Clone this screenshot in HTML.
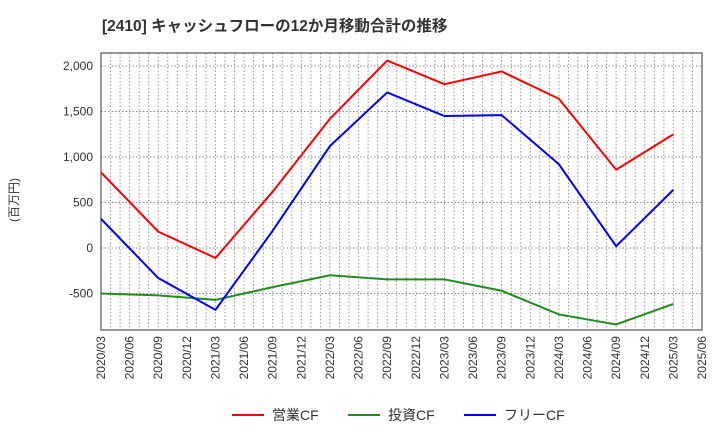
<!DOCTYPE html>
<html><head><meta charset="utf-8"><style>
body{margin:0;background:#fff;font-family:"Liberation Sans","Noto Sans CJK JP",sans-serif;}
</style></head><body>
<svg width="720" height="440" xmlns="http://www.w3.org/2000/svg" font-family="Liberation Sans, Noto Sans CJK JP, sans-serif">
<text x="102" y="31" font-size="15.5" font-weight="bold" fill="#333">[2410]  キャッシュフローの12か月移動合計の推移</text>
<text transform="translate(18,200) rotate(-90)" font-size="12" fill="#333" text-anchor="middle">(百万円)</text>
<g id="grid"></g>
<g id="axes"></g>
<g id="series"></g>
<g id="legend"></g>
</svg>
<script>
const xLabels=["2020/03","2020/06","2020/09","2020/12","2021/03","2021/06","2021/09","2021/12","2022/03","2022/06","2022/09","2022/12","2023/03","2023/06","2023/09","2023/12","2024/03","2024/06","2024/09","2024/12","2025/03","2025/06"];
const yTicks=[-500,0,500,1000,1500,2000];
const yTickLabels=["-500","0","500","1,000","1,500","2,000"];
const pointIdx=[0,2,4,6,8,10,12,14,16,18,20];
const operatingCF=[830,180,-110,620,1420,2060,1800,1940,1640,860,1250];
const investingCF=[-500,-520,-570,-430,-300,-345,-345,-470,-730,-840,-615];
const freeCF=[320,-330,-680,190,1120,1710,1450,1460,920,20,640];
const seriesNames=["営業CF","投資CF","フリーCF"];
const colors=["#ff0000","#228b22","#0000ff"];
const L=101,R=702,T=53,B=330;
const xq=i=>L+(R-L)*i/21;
const xm=m=>L+(R-L)*m/63;
const y=v=>248-v*(182/2000);
const NS="http://www.w3.org/2000/svg";
function mk(tag,attrs,parent,txt){const e=document.createElementNS(NS,tag);for(const k in attrs)e.setAttribute(k,attrs[k]);if(txt!==undefined)e.textContent=txt;document.getElementById(parent).appendChild(e);return e;}
for(let m=1;m<63;m++){const e=mk("line",{x1:xm(m),x2:xm(m),y1:T,y2:B,stroke:"#999","stroke-dasharray":"1.5,2","stroke-width":1},"grid");

}
yTicks.forEach((v,i)=>{const g=mk("line",{x1:L,x2:R,y1:y(v),y2:y(v),stroke:"#888","stroke-dasharray":"1.5,2","stroke-width":1},"grid");


const t=mk("text",{x:L-8,y:y(v)+4,"font-size":12,fill:"#333","text-anchor":"end"},"axes",yTickLabels[i]);

});
const fr=mk("rect",{x:L,y:T,width:R-L,height:B-T,fill:"none",stroke:"#333","stroke-width":1},"axes");


xLabels.forEach((s,i)=>{const t=mk("text",{transform:`translate(${xq(i)+4},${B+6}) rotate(-90)`,"font-size":12,fill:"#333","text-anchor":"end"},"axes",s);

});
[operatingCF,investingCF,freeCF].forEach((d,k)=>{const p=mk("polyline",{points:d.map((v,i)=>xq(pointIdx[i])+","+y(v)).join(" "),fill:"none",stroke:colors[k],"stroke-width":2},"series");

});
const lx=[232,348,464];
seriesNames.forEach((n,k)=>{const l=mk("line",{x1:lx[k],x2:lx[k]+32,y1:415,y2:415,stroke:colors[k],"stroke-width":2},"legend");


const t=mk("text",{x:lx[k]+40,y:420,"font-size":14,fill:"#333"},"legend",n);

});
</script>
</body></html>
